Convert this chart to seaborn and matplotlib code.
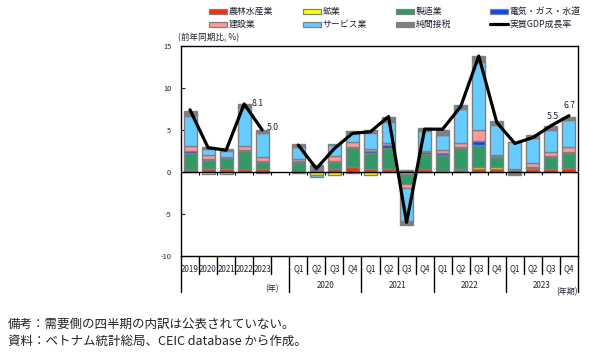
import numpy as np
import pandas as pd
import matplotlib
matplotlib.use('Agg')
import matplotlib.pyplot as plt
import matplotlib.transforms as mtransforms
from matplotlib.patches import Rectangle
from matplotlib.lines import Line2D
import seaborn as sns

# --- data (contribution to real GDP growth, % points) ---
annual_labels = ['2019', '2020', '2021', '2022', '2023']
quarter_labels = ['Q1', 'Q2', 'Q3', 'Q4']
quarter_years = ['2020', '2021', '2022', '2023']

agri = [0.2, 0.35, 0.3, 0.35, 0.35,
        0.05, 0.2, 0.3, 0.65, 0.3, 0.4, 0.2, 0.3, 0.15, 0.25, 0.35, 0.4, 0.2, 0.3, 0.4, 0.45]
mining = [0.05, -0.2, -0.2, 0.05, -0.1,
          -0.1, -0.35, -0.4, -0.15, -0.3, 0.0, -0.25, 0.0, 0.0, 0.05, 0.2, 0.15, -0.05, 0.0, 0.0, 0.0]
manuf = [2.05, 1.1, 1.35, 2.05, 0.8,
         1.1, 0.05, 0.9, 2.2, 2.0, 2.5, -1.2, 1.9, 1.85, 2.6, 2.7, 1.2, 0.05, 0.2, 1.35, 1.85]
utility = [0.25, 0.15, 0.05, 0.15, 0.15,
           0.15, 0.05, 0.15, 0.1, 0.2, 0.3, 0.0, 0.2, 0.3, 0.05, 0.4, 0.1, 0.0, 0.05, 0.15, 0.1]
constr = [0.55, 0.45, 0.1, 0.55, 0.5,
          0.3, 0.2, 0.6, 0.6, 0.2, 0.3, -0.45, 0.05, 0.3, 0.55, 1.4, 0.2, 0.05, 0.5, 0.45, 0.55]
services = [3.55, 0.7, 0.75, 4.45, 2.9,
            1.35, -0.3, 1.25, 1.1, 1.95, 2.4, -3.9, 2.4, 1.8, 4.0, 8.1, 3.5, 3.3, 3.0, 2.7, 3.2]
net_tax = [0.65, 0.25, 0.15, 0.45, 0.35,
           0.35, 0.35, 0.15, 0.2, 0.3, 0.7, -0.55, 0.35, 0.6, 0.5, 0.7, 0.55, -0.3, 0.3, 0.4, 0.4]
gdp = [7.4, 2.9, 2.6, 8.1, 5.0,
       3.2, 0.4, 2.8, 4.6, 4.8, 6.6, -6.0, 5.1, 5.1, 7.8, 13.8, 5.9, 3.4, 4.1, 5.5, 6.7]

labelled = {'2022': '8.1', '2023': '5.0', 'Q3 2023': '5.5', 'Q4 2023': '6.7'}

names = ['農林水産業', '鉱業', '製造業', '電気・ガス・水道', '建設業', 'サービス業', '純間接税']
colors = ['#ff2a00', '#ffff00', '#339966', '#0047ff', '#ff9999', '#66ccff', '#808080']
series = [agri, mining, manuf, utility, constr, services, net_tax]

W, H = 589, 357
sns.set_style('white')
plt.rcParams['font.family'] = ['Noto Sans CJK JP', 'DejaVu Sans']
txt_col = '#222233'

fig = plt.figure(figsize=(W / 100, H / 100), dpi=100)
ax = fig.add_axes([181 / W, 1 - 256 / H, 397 / W, 210 / H])

# annual slots 0-4, empty slot 5, quarters 6-21
xpos = np.array(list(range(5)) + list(range(6, 22)), dtype=float)
n = len(xpos)

pos_base = np.zeros(n)
neg_base = np.zeros(n)
for vals, c in zip(series, colors):
    v = np.array(vals, dtype=float)
    m = v != 0
    bottom = np.where(v >= 0, pos_base, neg_base)
    ax.bar(xpos[m], v[m], width=0.72, bottom=bottom[m], color=c,
           edgecolor='#808080', linewidth=1.0, zorder=2)
    pos_base += np.where(v > 0, v, 0)
    neg_base += np.where(v < 0, v, 0)

line_df = pd.DataFrame({'x': xpos, 'gdp': gdp,
                        'grp': ['annual'] * 5 + ['quarter'] * 16})
sns.lineplot(data=line_df, x='x', y='gdp', units='grp', estimator=None,
             color='black', lw=2.3, ax=ax, zorder=4)
ax.set_xlabel('')
ax.set_ylabel('')

# value labels
period_keys = annual_labels + [f'{q} {y}' for y in quarter_years for q in quarter_labels]
offsets = {'2022': (7, 0, 'left'), '2023': (5, 3, 'left'),
           'Q3 2023': (2, 9, 'center'), 'Q4 2023': (1, 10, 'center')}
for key, lab in labelled.items():
    i = period_keys.index(key)
    dx, dy, ha = offsets[key]
    ax.annotate(lab, (xpos[i], gdp[i]), xytext=(dx, dy), textcoords='offset pixels',
                ha=ha, va='center', fontsize=6.3, color=txt_col)

ax.axhline(0, color='black', lw=1, zorder=3)
bounds = np.arange(1, 22) - 0.5
ax.vlines(bounds, -0.3, 0, color='black', lw=0.8, zorder=3)

ax.set_xlim(-0.5, 21.5)
ax.set_ylim(-10, 15)
ax.set_xticks([])
ax.set_yticks([-10, -5, 0, 5, 10, 15])
ax.set_yticklabels(['-10', '-5', '0', '5', '10', '15'])
ax.tick_params(axis='y', direction='in', length=3, width=0.8, pad=7,
               labelsize=5.4, labelcolor=txt_col, left=True)
for s in ax.spines.values():
    s.set_color('black')
    s.set_linewidth(1)
    s.set_visible(True)

# category axis below the plot
def fy(p):
    return 1 - p / H

trans = mtransforms.blended_transform_factory(ax.transData, fig.transFigure)
for i, lab in enumerate(annual_labels):
    ax.text(i, fy(269), lab, transform=trans, ha='center', va='center',
            fontsize=5.8, color=txt_col)
for k, yr in enumerate(quarter_years):
    for j, q in enumerate(quarter_labels):
        ax.text(6 + 4 * k + j, fy(269), q, transform=trans, ha='center',
                va='center', fontsize=5.8, color=txt_col)
    ax.text(6 + 4 * k + 1.5, fy(286), yr, transform=trans, ha='center',
            va='center', fontsize=5.8, color=txt_col)

long_b = [-0.5, 5.5, 9.5, 13.5, 17.5, 21.5]
for b in np.arange(-0.5, 22, 1.0):
    low = 292 if b in long_b else 274
    ax.plot([b, b], [fy(256), fy(low)], transform=trans, color='black',
            lw=1, clip_on=False)

fig.text(272 / W, fy(289), '(年)', ha='center', va='center', fontsize=5.8, color=txt_col)
fig.text(567 / W, fy(292), '(年期)', ha='center', va='center', fontsize=5.8, color=txt_col)
fig.text(178 / W, fy(38), '(前年同期比, %)', ha='left', va='center', fontsize=6.2, color=txt_col)

# legend, drawn row by row
leg_x = [209, 302.5, 396, 489.5]
leg_y = [11.3, 24]
items = [(names[0], colors[0]), (names[1], colors[1]), (names[2], colors[2]), (names[3], colors[3]),
         (names[4], colors[4]), (names[5], colors[5]), (names[6], colors[6]), ('実質GDP成長率', None)]
for k, (name, c) in enumerate(items):
    px = leg_x[k % 4]
    py = leg_y[k // 4]
    if c is None:
        fig.add_artist(Line2D([px / W, (px + 18) / W], [fy(py), fy(py)],
                              color='black', lw=2.3, transform=fig.transFigure))
    else:
        fig.add_artist(Rectangle((px / W, fy(py + 2.5)), 18 / W, 5 / H,
                                 facecolor=c, edgecolor='#808080', lw=0.9,
                                 transform=fig.transFigure))
    fig.text((px + 20) / W, fy(py), name, ha='left', va='center',
             fontsize=6.4, color=txt_col)

fig.text(8 / W, fy(324), '備考：需要側の四半期の内訳は公表されていない。',
         ha='left', va='center', fontsize=9, color='#222222')
fig.text(8 / W, fy(341), '資料：ベトナム統計総局、CEIC database から作成。',
         ha='left', va='center', fontsize=9, color='#222222')

fig.savefig('out.png', dpi=100)
